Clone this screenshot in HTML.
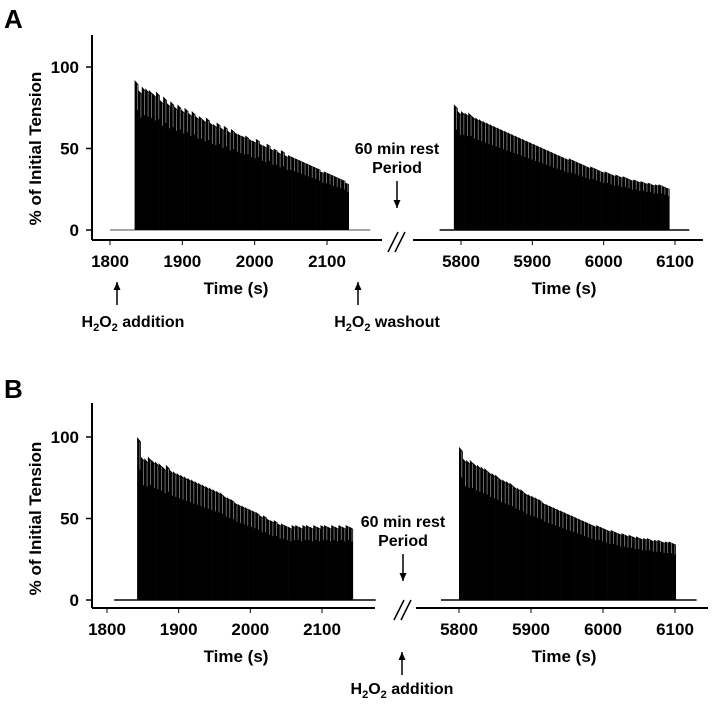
<!DOCTYPE html>
<html><head><meta charset="utf-8"><style>
html,body{margin:0;padding:0;background:#fff;}
svg{display:block;font-family:"Liberation Sans",Arial,sans-serif;font-weight:bold;}
</style></head><body>
<svg id="fig" width="712" height="705" viewBox="0 0 712 705"></svg>
<script>
const yTicks=[0,50,100];
const leftTicks=[1800,1900,2000,2100];
const rightTicks=[5800,5900,6000,6100];
const aLeftStart=1834, aLeftEnd=2130;
const aRightStart=5790, aRightEnd=6092;
const bLeftStart=1842, bLeftEnd=2143;
const bRightStart=5800, bRightEnd=6101;
const aLeftPeaks=[92,86,88,87,86,84,85,80,82,78,79,76,77,74,75,72,73,70,70,68,69,66,65,66,63,64,61,62,60,59,58,58,56,55,56,53,52,53,50,50,48,49,46,46,45,44,43,42,41,40,39,38,36,36,35,34,33,32,31,29];
const aRightPeaks=[77,73,73,72,72,70,69,68,67,66,65,64,63,62,61,60,59,58,57,56,55,54,53,52,51,50,49,48,47,46,45,44,44,43,42,41,40,39,39,38,37,36,36,35,34,34,33,33,32,31,31,30,30,29,29,28,28,28,27,26];
const bLeftPeaks=[100,88,87,88,86,85,84,82,83,80,79,78,77,76,75,74,73,72,71,70,69,68,67,66,64,63,62,60,59,58,57,56,55,54,52,52,50,49,49,47,47,46,45,46,46,45,46,46,45,46,45,46,46,45,46,45,46,45,46,45];
const bRightPeaks=[94,87,86,86,84,83,82,81,79,78,77,75,74,73,72,70,69,68,66,65,64,63,62,60,59,58,57,56,55,54,53,52,51,50,49,48,47,46,46,45,44,43,43,42,41,41,40,40,39,39,38,38,38,37,37,37,36,36,36,35];

const svg=document.getElementById('fig');
const NS='http://www.w3.org/2000/svg';
function mk(tag,attrs,parent){const e=document.createElementNS(NS,tag);for(const k in attrs)e.setAttribute(k,attrs[k]);(parent||svg).appendChild(e);return e;}
function txt(x,y,s,size,anchor,parent){const t=mk('text',{x:x,y:y,'font-size':size,'text-anchor':anchor||'middle'},parent);t.textContent=s;return t;}

function panel(cfg){
  const g=mk('g',{});
  
  
  const y=v=>cfg.y0+(cfg.y100-cfg.y0)*v/100;
  const xl=t=>cfg.l1800+(t-1800)*(cfg.l2100-cfg.l1800)/300;
  const xr=t=>cfg.r5800+(t-5800)*(cfg.r6100-cfg.r5800)/300;
  const ya=mk('line',{x1:92,y1:cfg.top,x2:92,y2:cfg.axisY,stroke:'#000','stroke-width':2},g);
  
  yTicks.forEach(v=>{
    mk('line',{x1:86,y1:y(v),x2:92,y2:y(v),stroke:'#000','stroke-width':1.5},g);
    const t=txt(79,y(v)+6,String(v),17,'end',g);
    
  });
  const yl=txt(0,0,'% of Initial Tension',17,'middle',g);
  yl.setAttribute('transform','translate(41,'+y(50)+') rotate(-90)');
  
  const xa1=mk('line',{x1:92,y1:cfg.axisY,x2:cfg.lEnd,y2:cfg.axisY,stroke:'#000','stroke-width':2},g);
  
  const xa2=mk('line',{x1:cfg.rStart,y1:cfg.axisY,x2:cfg.rEnd,y2:cfg.axisY,stroke:'#000','stroke-width':2},g);
  
  leftTicks.forEach(v=>{mk('line',{x1:xl(v),y1:cfg.axisY,x2:xl(v),y2:cfg.axisY+5,stroke:'#000','stroke-width':1},g);
    const t=txt(xl(v),cfg.axisY+27,String(v),17,'middle',g);});
  rightTicks.forEach(v=>{mk('line',{x1:xr(v),y1:cfg.axisY,x2:xr(v),y2:cfg.axisY+5,stroke:'#000','stroke-width':1},g);
    const t=txt(xr(v),cfg.axisY+27,String(v),17,'middle',g);});
  const t1=txt(236,cfg.axisY+54,'Time (s)',17,'middle',g);
  const t2=txt(564,cfg.axisY+54,'Time (s)',17,'middle',g);
  const br=mk('path',{d:'M'+(cfg.brX-8)+' '+(cfg.axisY+12)+' L'+(cfg.brX+2)+' '+(cfg.axisY-8)+' M'+(cfg.brX-1)+' '+(cfg.axisY+12)+' L'+(cfg.brX+9)+' '+(cfg.axisY-8),stroke:'#000','stroke-width':1.5,fill:'none'},g);
  
  mk('line',{x1:xl(cfg.blL[0]),y1:y(0),x2:xl(cfg.blL[1]),y2:y(0),stroke:cfg.blColor,'stroke-width':1.5},g);
  mk('line',{x1:xr(cfg.blR[0]),y1:y(0),x2:xr(cfg.blR[1]),y2:y(0),stroke:'#000','stroke-width':1.5},g);
  function trace(peaks,s,e,xf,nm){
    const tg=mk('g',{},g);
    
    const dt=(e-s)/peaks.length;
    peaks.forEach((p,i)=>{
      const x0=xf(s+i*dt), x1=xf(s+(i+1)*dt);
      const nx=i+1<peaks.length?peaks[i+1]:p;
      const r=mk('path',{d:'M'+x0+' '+y(0)+' L'+x0+' '+y(p)+' L'+(x1+0.3)+' '+y(p*0.97)+' L'+(x1+0.3)+' '+y(0)+' Z',fill:'#000'},tg);
      
      mk('line',{x1:x1-0.8,y1:y(p*0.97),x2:x1-0.8,y2:y(p*0.8),stroke:'#999','stroke-width':0.7},tg);
    });
  }
  trace(cfg.lp,cfg.ls,cfg.le,xl,'trace-left');
  trace(cfg.rp,cfg.rs,cfg.re,xr,'trace-right');
  const a1=txt(cfg.brX+1,cfg.restY,'60 min rest',16,'middle',g);
  const a2=txt(cfg.brX+1,cfg.restY+19,'Period',16,'middle',g);
  arrow(cfg.brX+1,cfg.restY+27,cfg.restY+54,g,'rest-arrow');
  const pl=txt(4,cfg.letterY,cfg.letter,26,'start',g);
  return {g,xl,xr};
}
function arrow(x,yTop,yBot,g,name,up){
  const a=mk('g',{},g);
  mk('line',{x1:x,y1:yTop,x2:x,y2:yBot,stroke:'#000','stroke-width':1.5},a);
  if(up) mk('path',{d:'M'+(x-3.5)+' '+(yTop+8)+' L'+x+' '+yTop+' L'+(x+3.5)+' '+(yTop+8)+'Z',fill:'#000'},a);
  else mk('path',{d:'M'+(x-3.5)+' '+(yBot-8)+' L'+x+' '+yBot+' L'+(x+3.5)+' '+(yBot-8)+'Z',fill:'#000'},a);
}
function h2o2(x,y,suffix,g,name){
  const t=mk('text',{x:x,y:y,'font-size':16,'text-anchor':'middle'},g);
  
  t.innerHTML='H<tspan font-size="11" dy="4">2</tspan><tspan dy="-4">O</tspan><tspan font-size="11" dy="4">2</tspan><tspan dy="-4"> '+suffix+'</tspan>';
}
const A=panel({name:'panel-a',letter:'A',letterY:28,top:35,axisY:240,y0:230,y100:67,l1800:110,l2100:327,r5800:461,r6100:675,lEnd:382,rStart:413,rEnd:703,brX:396,
  blL:[1800,2160],blR:[5770,6120],blColor:'#888',lp:aLeftPeaks,ls:aLeftStart,le:aLeftEnd,rp:aRightPeaks,rs:aRightStart,re:aRightEnd,restY:154});
arrow(117,282,305,A.g,'addition-arrow',true);
h2o2(133,327,'addition',A.g,'h2o2-addition-label');
arrow(358,282,305,A.g,'washout-arrow',true);
h2o2(387,327,'washout',A.g,'h2o2-washout-label');
const B=panel({name:'panel-b',letter:'B',letterY:398,top:403,axisY:608,y0:600,y100:437,l1800:107,l2100:322,r5800:459,r6100:675,lEnd:375,rStart:416,rEnd:708,brX:402,
  blL:[1810,2175],blR:[5775,6130],blColor:'#000',lp:bLeftPeaks,ls:bLeftStart,le:bLeftEnd,rp:bRightPeaks,rs:bRightStart,re:bRightEnd,restY:527});
arrow(402,652,675,B.g,'addition-arrow-b',true);
h2o2(402,694,'addition',B.g,'h2o2-addition-label-b');
</script>
</body></html>
